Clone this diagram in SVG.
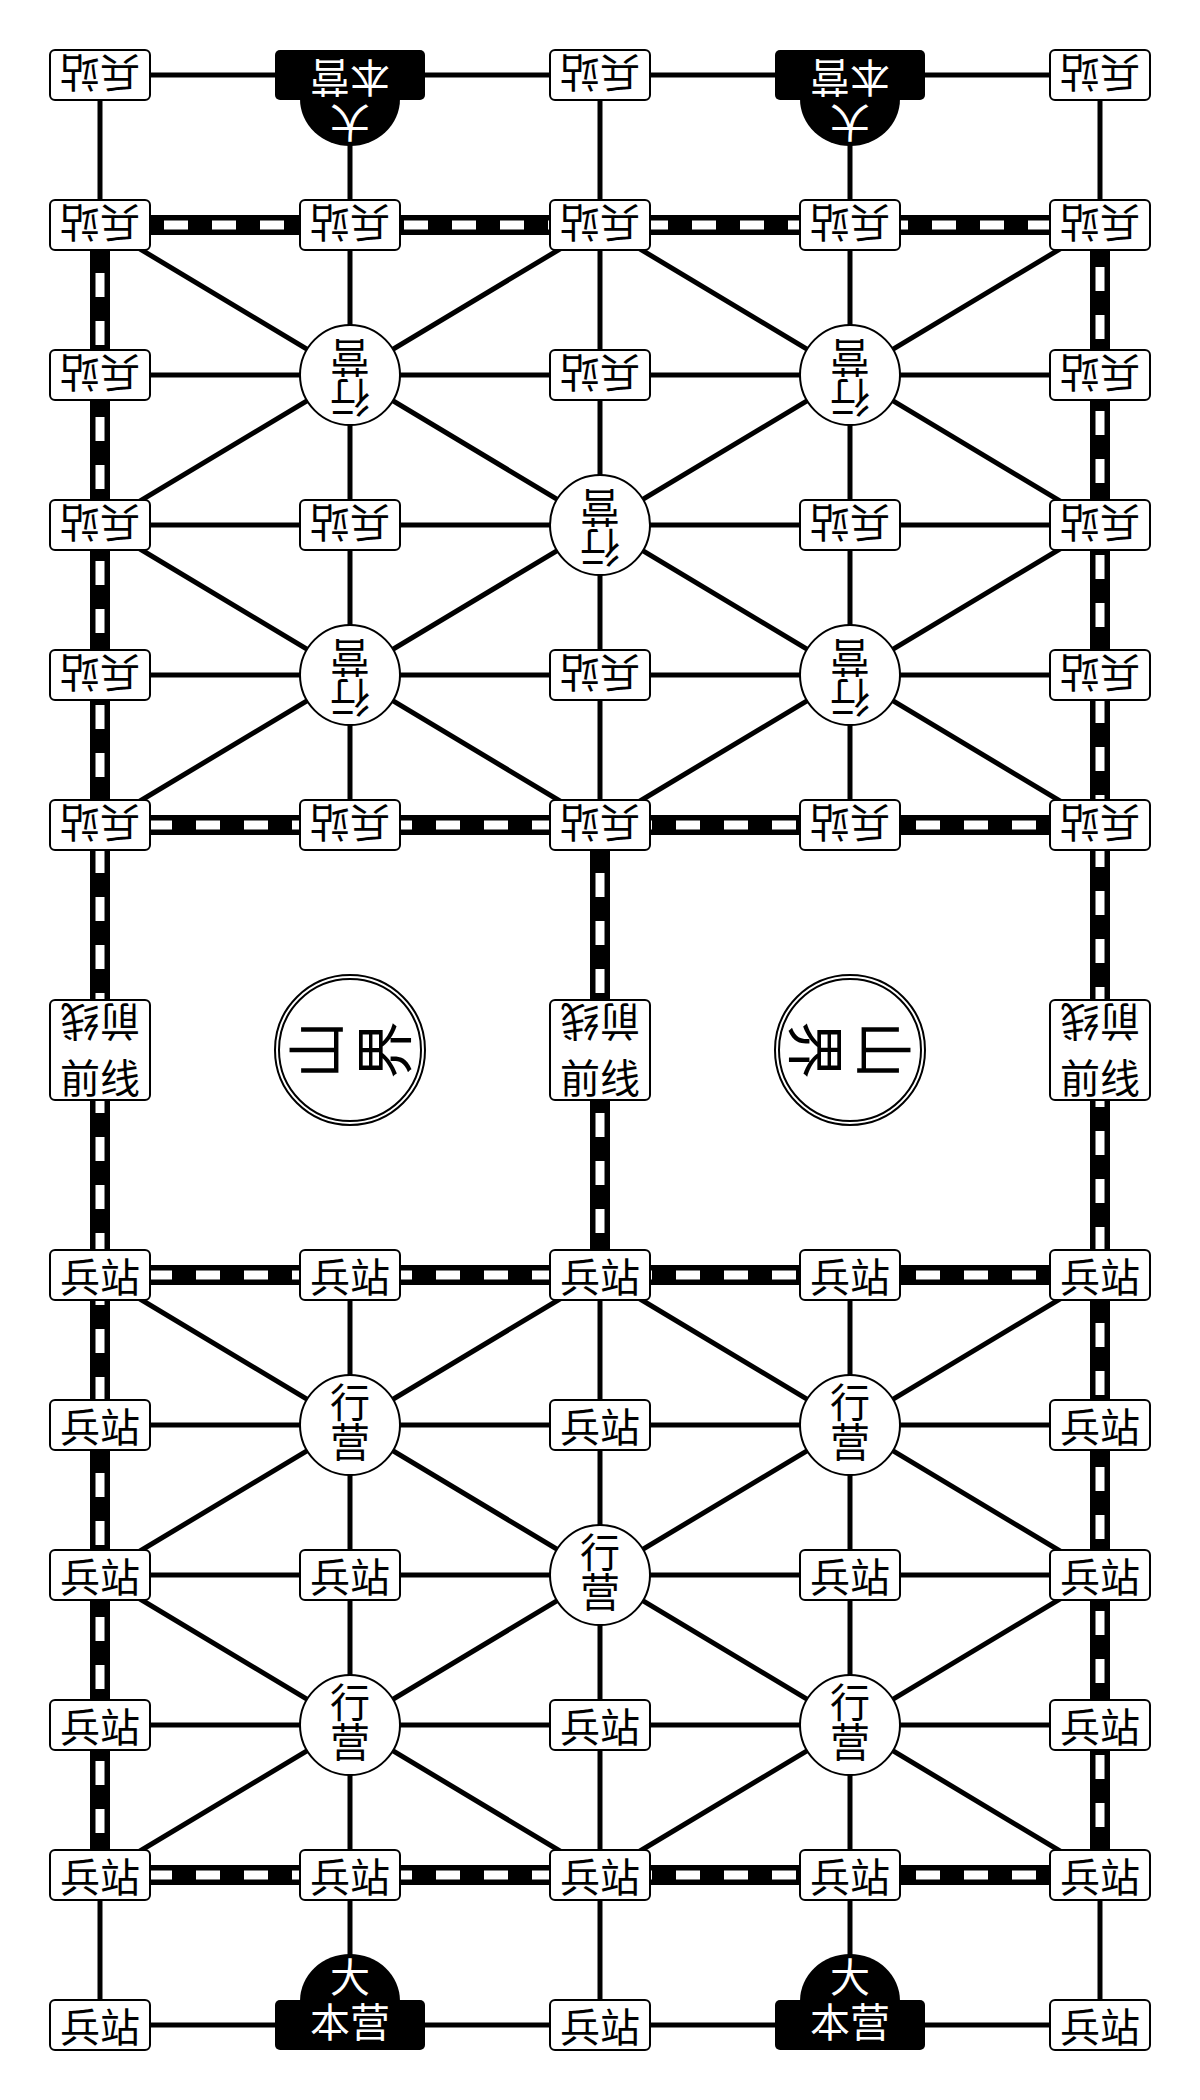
<svg xmlns="http://www.w3.org/2000/svg" width="1200" height="2100" viewBox="0 0 1200 2100">
<style>
.bg{fill:#fff}
.ln{stroke:#000;stroke-width:5;fill:none;stroke-linecap:butt}
.rb{stroke:#000;stroke-width:20;fill:none}
.rw{stroke:#fff;stroke-width:9;fill:none;stroke-dasharray:24 24}
.box{fill:#fff;stroke:#000;stroke-width:2}
.hq{fill:#000;stroke:none}
.camp{fill:#fff;stroke:#000;stroke-width:2}
.ring{fill:none;stroke:#000;stroke-width:2}
.t{font-family:"Noto Sans CJK SC","Noto Sans",sans-serif;font-size:40px;text-anchor:middle;dominant-baseline:central;fill:#000}
.v{writing-mode:vertical-rl}
.tw{fill:#fff}
.tb{font-size:58px}
</style>
<rect class="bg" x="0" y="0" width="1200" height="2100"/>
<g id="connectors">
  <g id="solid-lines">
    <path class="ln" d="M100 75H1100M100 375H1100M100 525H1100M100 675H1100M100 1425H1100M100 1575H1100M100 1725H1100M100 2025H1100"/>
    <path class="ln" d="M100 75V225M1100 75V225M100 1875V2025M1100 1875V2025M350 75V825M600 75V825M850 75V825M350 1275V2025M600 1275V2025M850 1275V2025"/>
    <path class="ln" d="M100 225L1100 825M1100 225L100 825M600 225L100 525M600 225L1100 525M100 525L600 825M1100 525L600 825"/>
    <path class="ln" d="M100 1275L1100 1875M1100 1275L100 1875M600 1275L100 1575M600 1275L1100 1575M100 1575L600 1875M1100 1575L600 1875"/>
  </g>
  <g id="railways">
    <path class="rb" d="M1100 225H100"/><path class="rw" d="M1100 225H100"/>
    <path class="rb" d="M100 825H1100"/><path class="rw" d="M100 825H1100"/>
    <path class="rb" d="M100 1275H1100"/><path class="rw" d="M100 1275H1100"/>
    <path class="rb" d="M100 1875H1100"/><path class="rw" d="M100 1875H1100"/>
    <path class="rb" d="M100 225V1875"/><path class="rw" d="M100 225V1875"/>
    <path class="rb" d="M1100 1875V225"/><path class="rw" d="M1100 1875V225"/>
    <path class="rb" d="M600 825V1275"/><path class="rw" d="M600 825V1275"/>
  </g>
</g>
<g id="nodes">
  <!-- top half (rotated 180) -->
  <g id="t-r0-c0" transform="translate(100 75) rotate(180)"><rect class="box" x="-50" y="-25" width="100" height="50" rx="5"/><text class="t">兵站</text></g>
  <g id="t-hq-1" transform="translate(350 75) rotate(180)"><path class="hq" d="M-50 -24A50 47 0 0 1 50 -24Z"/><rect class="hq" x="-75" y="-25" width="150" height="50" rx="5"/><text class="t tw"><tspan x="0" y="-50">大</tspan><tspan x="0" y="-5">本营</tspan></text></g>
  <g id="t-r0-c2" transform="translate(600 75) rotate(180)"><rect class="box" x="-50" y="-25" width="100" height="50" rx="5"/><text class="t">兵站</text></g>
  <g id="t-hq-2" transform="translate(850 75) rotate(180)"><path class="hq" d="M-50 -24A50 47 0 0 1 50 -24Z"/><rect class="hq" x="-75" y="-25" width="150" height="50" rx="5"/><text class="t tw"><tspan x="0" y="-50">大</tspan><tspan x="0" y="-5">本营</tspan></text></g>
  <g id="t-r0-c4" transform="translate(1100 75) rotate(180)"><rect class="box" x="-50" y="-25" width="100" height="50" rx="5"/><text class="t">兵站</text></g>

  <g id="t-r1-c0" transform="translate(100 225) rotate(180)"><rect class="box" x="-50" y="-25" width="100" height="50" rx="5"/><text class="t">兵站</text></g>
  <g id="t-r1-c1" transform="translate(350 225) rotate(180)"><rect class="box" x="-50" y="-25" width="100" height="50" rx="5"/><text class="t">兵站</text></g>
  <g id="t-r1-c2" transform="translate(600 225) rotate(180)"><rect class="box" x="-50" y="-25" width="100" height="50" rx="5"/><text class="t">兵站</text></g>
  <g id="t-r1-c3" transform="translate(850 225) rotate(180)"><rect class="box" x="-50" y="-25" width="100" height="50" rx="5"/><text class="t">兵站</text></g>
  <g id="t-r1-c4" transform="translate(1100 225) rotate(180)"><rect class="box" x="-50" y="-25" width="100" height="50" rx="5"/><text class="t">兵站</text></g>

  <g id="t-r2-c0" transform="translate(100 375) rotate(180)"><rect class="box" x="-50" y="-25" width="100" height="50" rx="5"/><text class="t">兵站</text></g>
  <g id="t-r2-c1" transform="translate(350 375) rotate(180)"><circle class="camp" r="50"/><text class="t v" x="0" y="-3">行营</text></g>
  <g id="t-r2-c2" transform="translate(600 375) rotate(180)"><rect class="box" x="-50" y="-25" width="100" height="50" rx="5"/><text class="t">兵站</text></g>
  <g id="t-r2-c3" transform="translate(850 375) rotate(180)"><circle class="camp" r="50"/><text class="t v" x="0" y="-3">行营</text></g>
  <g id="t-r2-c4" transform="translate(1100 375) rotate(180)"><rect class="box" x="-50" y="-25" width="100" height="50" rx="5"/><text class="t">兵站</text></g>

  <g id="t-r3-c0" transform="translate(100 525) rotate(180)"><rect class="box" x="-50" y="-25" width="100" height="50" rx="5"/><text class="t">兵站</text></g>
  <g id="t-r3-c1" transform="translate(350 525) rotate(180)"><rect class="box" x="-50" y="-25" width="100" height="50" rx="5"/><text class="t">兵站</text></g>
  <g id="t-r3-c2" transform="translate(600 525) rotate(180)"><circle class="camp" r="50"/><text class="t v" x="0" y="-3">行营</text></g>
  <g id="t-r3-c3" transform="translate(850 525) rotate(180)"><rect class="box" x="-50" y="-25" width="100" height="50" rx="5"/><text class="t">兵站</text></g>
  <g id="t-r3-c4" transform="translate(1100 525) rotate(180)"><rect class="box" x="-50" y="-25" width="100" height="50" rx="5"/><text class="t">兵站</text></g>

  <g id="t-r4-c0" transform="translate(100 675) rotate(180)"><rect class="box" x="-50" y="-25" width="100" height="50" rx="5"/><text class="t">兵站</text></g>
  <g id="t-r4-c1" transform="translate(350 675) rotate(180)"><circle class="camp" r="50"/><text class="t v" x="0" y="-3">行营</text></g>
  <g id="t-r4-c2" transform="translate(600 675) rotate(180)"><rect class="box" x="-50" y="-25" width="100" height="50" rx="5"/><text class="t">兵站</text></g>
  <g id="t-r4-c3" transform="translate(850 675) rotate(180)"><circle class="camp" r="50"/><text class="t v" x="0" y="-3">行营</text></g>
  <g id="t-r4-c4" transform="translate(1100 675) rotate(180)"><rect class="box" x="-50" y="-25" width="100" height="50" rx="5"/><text class="t">兵站</text></g>

  <g id="t-r5-c0" transform="translate(100 825) rotate(180)"><rect class="box" x="-50" y="-25" width="100" height="50" rx="5"/><text class="t">兵站</text></g>
  <g id="t-r5-c1" transform="translate(350 825) rotate(180)"><rect class="box" x="-50" y="-25" width="100" height="50" rx="5"/><text class="t">兵站</text></g>
  <g id="t-r5-c2" transform="translate(600 825) rotate(180)"><rect class="box" x="-50" y="-25" width="100" height="50" rx="5"/><text class="t">兵站</text></g>
  <g id="t-r5-c3" transform="translate(850 825) rotate(180)"><rect class="box" x="-50" y="-25" width="100" height="50" rx="5"/><text class="t">兵站</text></g>
  <g id="t-r5-c4" transform="translate(1100 825) rotate(180)"><rect class="box" x="-50" y="-25" width="100" height="50" rx="5"/><text class="t">兵站</text></g>

  <!-- middle -->
  <g id="front-0" transform="translate(100 1050)"><rect class="box" x="-50" y="-50" width="100" height="100" rx="5"/><text class="t" y="26">前线</text><text class="t" y="26" transform="rotate(180)">前线</text></g>
  <g id="mount-1" transform="translate(350 1050)"><circle class="ring" r="75"/><circle class="ring" r="71"/><g transform="rotate(-90)"><text class="t tb"><tspan x="0" y="-37">山</tspan><tspan x="0" y="31">界</tspan></text></g></g>
  <g id="front-2" transform="translate(600 1050)"><rect class="box" x="-50" y="-50" width="100" height="100" rx="5"/><text class="t" y="26">前线</text><text class="t" y="26" transform="rotate(180)">前线</text></g>
  <g id="mount-3" transform="translate(850 1050)"><circle class="ring" r="75"/><circle class="ring" r="71"/><g transform="rotate(90)"><text class="t tb"><tspan x="0" y="-37">山</tspan><tspan x="0" y="31">界</tspan></text></g></g>
  <g id="front-4" transform="translate(1100 1050)"><rect class="box" x="-50" y="-50" width="100" height="100" rx="5"/><text class="t" y="26">前线</text><text class="t" y="26" transform="rotate(180)">前线</text></g>

  <!-- bottom half -->
  <g id="b-r5-c0" transform="translate(100 1275)"><rect class="box" x="-50" y="-25" width="100" height="50" rx="5"/><text class="t">兵站</text></g>
  <g id="b-r5-c1" transform="translate(350 1275)"><rect class="box" x="-50" y="-25" width="100" height="50" rx="5"/><text class="t">兵站</text></g>
  <g id="b-r5-c2" transform="translate(600 1275)"><rect class="box" x="-50" y="-25" width="100" height="50" rx="5"/><text class="t">兵站</text></g>
  <g id="b-r5-c3" transform="translate(850 1275)"><rect class="box" x="-50" y="-25" width="100" height="50" rx="5"/><text class="t">兵站</text></g>
  <g id="b-r5-c4" transform="translate(1100 1275)"><rect class="box" x="-50" y="-25" width="100" height="50" rx="5"/><text class="t">兵站</text></g>

  <g id="b-r4-c0" transform="translate(100 1425)"><rect class="box" x="-50" y="-25" width="100" height="50" rx="5"/><text class="t">兵站</text></g>
  <g id="b-r4-c1" transform="translate(350 1425)"><circle class="camp" r="50"/><text class="t v" x="0" y="-3">行营</text></g>
  <g id="b-r4-c2" transform="translate(600 1425)"><rect class="box" x="-50" y="-25" width="100" height="50" rx="5"/><text class="t">兵站</text></g>
  <g id="b-r4-c3" transform="translate(850 1425)"><circle class="camp" r="50"/><text class="t v" x="0" y="-3">行营</text></g>
  <g id="b-r4-c4" transform="translate(1100 1425)"><rect class="box" x="-50" y="-25" width="100" height="50" rx="5"/><text class="t">兵站</text></g>

  <g id="b-r3-c0" transform="translate(100 1575)"><rect class="box" x="-50" y="-25" width="100" height="50" rx="5"/><text class="t">兵站</text></g>
  <g id="b-r3-c1" transform="translate(350 1575)"><rect class="box" x="-50" y="-25" width="100" height="50" rx="5"/><text class="t">兵站</text></g>
  <g id="b-r3-c2" transform="translate(600 1575)"><circle class="camp" r="50"/><text class="t v" x="0" y="-3">行营</text></g>
  <g id="b-r3-c3" transform="translate(850 1575)"><rect class="box" x="-50" y="-25" width="100" height="50" rx="5"/><text class="t">兵站</text></g>
  <g id="b-r3-c4" transform="translate(1100 1575)"><rect class="box" x="-50" y="-25" width="100" height="50" rx="5"/><text class="t">兵站</text></g>

  <g id="b-r2-c0" transform="translate(100 1725)"><rect class="box" x="-50" y="-25" width="100" height="50" rx="5"/><text class="t">兵站</text></g>
  <g id="b-r2-c1" transform="translate(350 1725)"><circle class="camp" r="50"/><text class="t v" x="0" y="-3">行营</text></g>
  <g id="b-r2-c2" transform="translate(600 1725)"><rect class="box" x="-50" y="-25" width="100" height="50" rx="5"/><text class="t">兵站</text></g>
  <g id="b-r2-c3" transform="translate(850 1725)"><circle class="camp" r="50"/><text class="t v" x="0" y="-3">行营</text></g>
  <g id="b-r2-c4" transform="translate(1100 1725)"><rect class="box" x="-50" y="-25" width="100" height="50" rx="5"/><text class="t">兵站</text></g>

  <g id="b-r1-c0" transform="translate(100 1875)"><rect class="box" x="-50" y="-25" width="100" height="50" rx="5"/><text class="t">兵站</text></g>
  <g id="b-r1-c1" transform="translate(350 1875)"><rect class="box" x="-50" y="-25" width="100" height="50" rx="5"/><text class="t">兵站</text></g>
  <g id="b-r1-c2" transform="translate(600 1875)"><rect class="box" x="-50" y="-25" width="100" height="50" rx="5"/><text class="t">兵站</text></g>
  <g id="b-r1-c3" transform="translate(850 1875)"><rect class="box" x="-50" y="-25" width="100" height="50" rx="5"/><text class="t">兵站</text></g>
  <g id="b-r1-c4" transform="translate(1100 1875)"><rect class="box" x="-50" y="-25" width="100" height="50" rx="5"/><text class="t">兵站</text></g>

  <g id="b-r0-c0" transform="translate(100 2025)"><rect class="box" x="-50" y="-25" width="100" height="50" rx="5"/><text class="t">兵站</text></g>
  <g id="b-hq-1" transform="translate(350 2025)"><path class="hq" d="M-50 -24A50 47 0 0 1 50 -24Z"/><rect class="hq" x="-75" y="-25" width="150" height="50" rx="5"/><text class="t tw"><tspan x="0" y="-50">大</tspan><tspan x="0" y="-5">本营</tspan></text></g>
  <g id="b-r0-c2" transform="translate(600 2025)"><rect class="box" x="-50" y="-25" width="100" height="50" rx="5"/><text class="t">兵站</text></g>
  <g id="b-hq-2" transform="translate(850 2025)"><path class="hq" d="M-50 -24A50 47 0 0 1 50 -24Z"/><rect class="hq" x="-75" y="-25" width="150" height="50" rx="5"/><text class="t tw"><tspan x="0" y="-50">大</tspan><tspan x="0" y="-5">本营</tspan></text></g>
  <g id="b-r0-c4" transform="translate(1100 2025)"><rect class="box" x="-50" y="-25" width="100" height="50" rx="5"/><text class="t">兵站</text></g>
</g>
</svg>
